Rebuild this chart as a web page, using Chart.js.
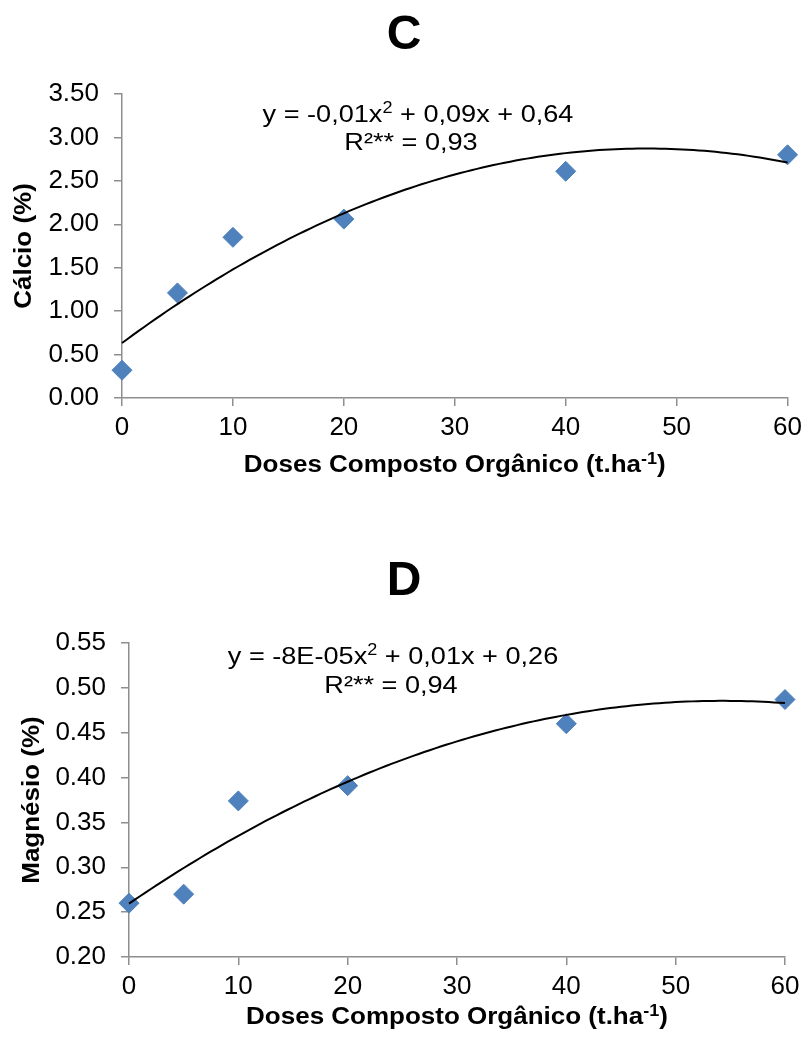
<!DOCTYPE html>
<html lang="pt-BR">
<head>
<meta charset="utf-8">
<title>Cálcio e Magnésio - Doses de Composto Orgânico</title>
<script src="https://cdn.jsdelivr.net/npm/chart.js@4.4.0/dist/chart.umd.min.js"></script>
<style>
    html, body { margin: 0; padding: 0; background: #fff; }
    canvas { display: block; }
</style>
</head>
<body>
<canvas id="graficoC" width="808" height="520"></canvas>
<canvas id="graficoD" width="808" height="519"></canvas>
<script>
// --- DADOS ---
const doses = [0, 5, 10, 20, 40, 60];
const calcio = [0.32, 1.21, 1.85, 2.06, 2.61, 2.80];
const magnesio = [0.26, 0.27, 0.374, 0.391, 0.46, 0.487];

const ticksDoses = [0, 10, 20, 30, 40, 50, 60];
const ticksCalcio = [0, 0.5, 1, 1.5, 2, 2.5, 3, 3.5];
const ticksMagnesio = [0.20, 0.25, 0.30, 0.35, 0.40, 0.45, 0.50, 0.55];

const FONTE = 'Arial, "Liberation Sans", sans-serif';
const AZUL = '#4F81BD';
const CINZA = '#8e8e8e';
const ESTICAR = 1.13; // fonte um pouco mais larga que a Arial

// Ajuste polinomial de 2º grau (mínimos quadrados)
function ajustePolinomial2(xs, ys) {
    let n = xs.length, sx = 0, sx2 = 0, sx3 = 0, sx4 = 0, sy = 0, sxy = 0, sx2y = 0;
    for (let i = 0; i < n; i++) {
        const x = xs[i], y = ys[i];
        sx += x; sx2 += x * x; sx3 += x * x * x; sx4 += x * x * x * x;
        sy += y; sxy += x * y; sx2y += x * x * y;
    }
    // sistema [sx4 sx3 sx2; sx3 sx2 sx; sx2 sx n] * [a b c] = [sx2y sxy sy]
    const det3 = m => m[0][0] * (m[1][1] * m[2][2] - m[1][2] * m[2][1])
        - m[0][1] * (m[1][0] * m[2][2] - m[1][2] * m[2][0])
        + m[0][2] * (m[1][0] * m[2][1] - m[1][1] * m[2][0]);
    const M = [[sx4, sx3, sx2], [sx3, sx2, sx], [sx2, sx, n]];
    const v = [sx2y, sxy, sy];
    const D = det3(M);
    const col = k => M.map((linha, i) => linha.map((val, j) => (j === k ? v[i] : val)));
    return { a: det3(col(0)) / D, b: det3(col(1)) / D, c: det3(col(2)) / D };
}

// Pontos da linha de tendência
function curvaTendencia(xs, ys) {
    const { a, b, c } = ajustePolinomial2(xs, ys);
    const pontos = [];
    for (let x = 0; x <= 60; x += 0.5) {
        pontos.push({ x: x, y: a * x * x + b * x + c });
    }
    return pontos;
}

// Texto com partes sobrescritas, centrado em (cx, cy)
function textoRico(ctx, partes, cx, cy, tamanho, negrito, esticar) {
    const peso = negrito ? 'bold ' : '';
    const fBase = peso + tamanho + 'px ' + FONTE;
    const fSup = peso + Math.round(tamanho * 0.68) + 'px ' + FONTE;
    let total = 0;
    partes.forEach(p => {
        ctx.font = p.sup ? fSup : fBase;
        total += ctx.measureText(p.t).width;
    });
    ctx.save();
    ctx.translate(cx, cy);
    ctx.scale(esticar || 1, 1);
    let x = -total / 2;
    ctx.textAlign = 'left';
    ctx.textBaseline = 'middle';
    ctx.fillStyle = '#000';
    partes.forEach(p => {
        ctx.font = p.sup ? fSup : fBase;
        ctx.fillText(p.t, x, p.sup ? -tamanho * 0.28 : 0);
        x += ctx.measureText(p.t).width;
    });
    ctx.restore();
}

// Plugin: título, equação e títulos dos eixos
function pluginTextos(cfg) {
    return {
        id: 'textos',
        afterDraw(chart) {
            const ctx = chart.ctx;
            const area = chart.chartArea;
            ctx.save();
            textoRico(ctx, [{ t: cfg.titulo }], chart.width / 2, cfg.tituloY, 48, true);
            textoRico(ctx, cfg.equacao, cfg.eqX, cfg.eqY, 24, false, ESTICAR);
            textoRico(ctx, [{ t: cfg.r2 }], cfg.r2X, cfg.r2Y, 24, false, ESTICAR);
            textoRico(ctx, [
                { t: 'Doses Composto Orgânico (t.ha' },
                { t: '-1', sup: true },
                { t: ')' }
            ], (area.left + area.right) / 2, cfg.xTituloY, 23, true, ESTICAR);
            ctx.translate(cfg.yTituloX, (area.top + area.bottom) / 2);
            ctx.rotate(-Math.PI / 2);
            textoRico(ctx, [{ t: cfg.yTitulo }], 0, 0, 23, true, ESTICAR);
            ctx.restore();
        }
    };
}

function criarGrafico(id, valores, ticksY, cfg) {
    const ctx = document.getElementById(id);
    return new Chart(ctx, {
        type: 'scatter',
        data: {
            datasets: [
                {
                    type: 'line',
                    data: curvaTendencia(doses, valores),
                    borderColor: '#000',
                    borderWidth: 2,
                    pointRadius: 0,
                    tension: 0,
                    fill: false,
                    clip: false,
                    order: 0
                },
                {
                    data: doses.map((d, i) => ({ x: d, y: valores[i] })),
                    pointStyle: 'rectRot',
                    pointRadius: 10,
                    backgroundColor: AZUL,
                    borderColor: AZUL,
                    borderWidth: 1,
                    clip: false,
                    order: 1
                }
            ]
        },
        options: {
            responsive: false,
            animation: false,
            events: [],
            layout: { padding: { top: cfg.areaTopo, right: cfg.direita, left: 0, bottom: 0 } },
            plugins: { legend: { display: false }, tooltip: { enabled: false }, title: { display: false } },
            scales: {
                x: {
                    type: 'linear',
                    min: 0,
                    max: 60,
                    afterBuildTicks: s => { s.ticks = ticksDoses.map(v => ({ value: v })); },
                    afterFit: s => { s.height = cfg.alturaX; },
                    grid: { drawOnChartArea: false, drawTicks: true, tickLength: 8, color: CINZA, lineWidth: 1.5 },
                    border: { color: CINZA, width: 1.5 },
                    ticks: { color: '#000', padding: 6, font: { family: FONTE, size: 26 }, maxRotation: 0 }
                },
                y: {
                    type: 'linear',
                    min: ticksY[0],
                    max: ticksY[ticksY.length - 1],
                    afterBuildTicks: s => { s.ticks = ticksY.map(v => ({ value: v })); },
                    afterFit: s => { s.width = cfg.larguraY; },
                    grid: { drawOnChartArea: false, drawTicks: true, tickLength: 8, color: CINZA, lineWidth: 1.5 },
                    border: { color: CINZA, width: 1.5 },
                    ticks: {
                        color: '#000',
                        padding: 15,
                        font: { family: FONTE, size: 26 },
                        callback: v => Number(v).toFixed(2)
                    }
                }
            }
        },
        plugins: [pluginTextos(cfg)]
    });
}

criarGrafico('graficoC', calcio, ticksCalcio, {
    areaTopo: 94, direita: 15, larguraY: 122, alturaX: 122,
    titulo: 'C', tituloY: 36,
    equacao: [{ t: 'y = -0,01x' }, { t: '2', sup: true }, { t: ' + 0,09x + 0,64' }],
    eqX: 418, eqY: 115,
    r2: 'R²** = 0,93', r2X: 411, r2Y: 143,
    xTituloY: 466,
    yTitulo: 'Cálcio (%)', yTituloX: 25
});

criarGrafico('graficoD', magnesio, ticksMagnesio, {
    areaTopo: 123, direita: 23, larguraY: 129, alturaX: 82,
    titulo: 'D', tituloY: 62,
    equacao: [{ t: 'y = -8E-05x' }, { t: '2', sup: true }, { t: ' + 0,01x + 0,26' }],
    eqX: 393, eqY: 137,
    r2: 'R²** = 0,94', r2X: 391, r2Y: 166,
    xTituloY: 498,
    yTitulo: 'Magnésio (%)', yTituloX: 33
});
</script>
</body>
</html>
